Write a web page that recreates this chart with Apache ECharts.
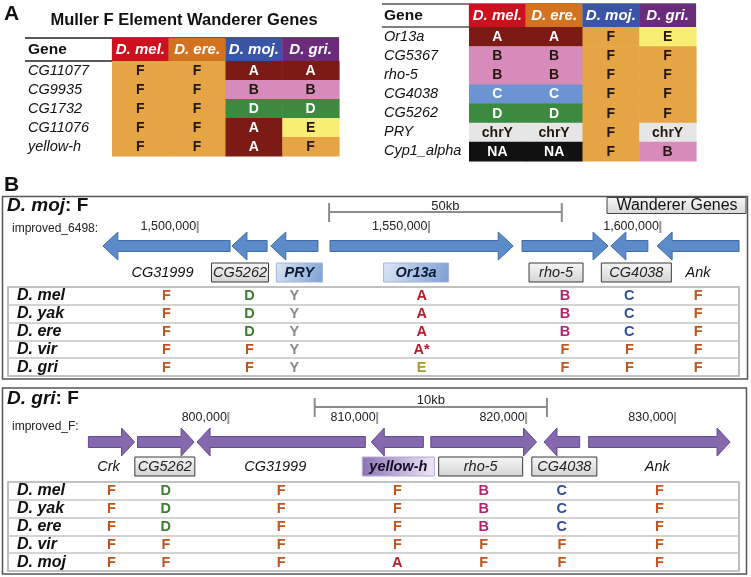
<!DOCTYPE html>
<html><head><meta charset="utf-8">
<script src="https://cdn.jsdelivr.net/npm/echarts@6/dist/echarts.min.js"></script>
<style>html,body{margin:0;padding:0;background:#fff}#c{width:751px;height:577px}</style>
</head><body><div id="c"></div>
<script>
// ---------------- DATA ----------------
// Panel A
const speciesA = ['D. mel.', 'D. ere.', 'D. moj.', 'D. gri.'];
const genesA1 = ['CG11077', 'CG9935', 'CG1732', 'CG11076', 'yellow-h'];
const elementsA1 = [
  ['F', 'F', 'A', 'A'],
  ['F', 'F', 'B', 'B'],
  ['F', 'F', 'D', 'D'],
  ['F', 'F', 'A', 'E'],
  ['F', 'F', 'A', 'F']
];
const genesA2 = ['Or13a', 'CG5367', 'rho-5', 'CG4038', 'CG5262', 'PRY', 'Cyp1_alpha'];
const elementsA2 = [
  ['A', 'A', 'F', 'E'],
  ['B', 'B', 'F', 'F'],
  ['B', 'B', 'F', 'F'],
  ['C', 'C', 'F', 'F'],
  ['D', 'D', 'F', 'F'],
  ['chrY', 'chrY', 'F', 'chrY'],
  ['NA', 'NA', 'F', 'B']
];
// Panel B, D. moj scaffold improved_6498
const mojGenes = ['CG31999', 'CG5262', 'PRY', 'Or13a', 'rho-5', 'CG4038', 'Ank'];
const mojStart = [1479500, 1507400, 1515800, 1528600, 1570100, 1589300, 1599300];
const mojEnd   = [1507000, 1515000, 1526000, 1568200, 1588700, 1597300, 1617000];
const mojStrand = [-1, -1, -1, 1, 1, -1, -1];
const mojKind = ['plain', 'wanderer', 'focal', 'focal', 'wanderer', 'wanderer', 'plain'];
const mojTicks = [1500000, 1550000, 1600000];
const mojScale = [1528400, 1578700];
const mojScaleLabel = '50kb';
const mojSpecies = ['D. mel', 'D. yak', 'D. ere', 'D. vir', 'D. gri'];
const mojTable = [
  ['F', 'D', 'Y', 'A', 'B', 'C', 'F'],
  ['F', 'D', 'Y', 'A', 'B', 'C', 'F'],
  ['F', 'D', 'Y', 'A', 'B', 'C', 'F'],
  ['F', 'F', 'Y', 'A*', 'F', 'F', 'F'],
  ['F', 'F', 'Y', 'E', 'F', 'F', 'F']
];
// Panel B, D. gri scaffold improved_F
const griGenes = ['Crk', 'CG5262', 'CG31999', 'yellow-h', 'rho-5', 'CG4038', 'Ank'];
const griStart = [790600, 793900, 797900, 809600, 813600, 821200, 824200];
const griEnd   = [793700, 797700, 809200, 813100, 820700, 823600, 833700];
const griStrand = [1, 1, -1, -1, 1, -1, 1];
const griKind = ['plain', 'wanderer', 'plain', 'focal', 'wanderer', 'wanderer', 'plain'];
const griTicks = [800000, 810000, 820000, 830000];
const griScale = [805800, 821400];
const griScaleLabel = '10kb';
const griSpecies = ['D. mel', 'D. yak', 'D. ere', 'D. vir', 'D. moj'];
const griTable = [
  ['F', 'D', 'F', 'F', 'B', 'C', 'F'],
  ['F', 'D', 'F', 'F', 'B', 'C', 'F'],
  ['F', 'D', 'F', 'F', 'B', 'C', 'F'],
  ['F', 'F', 'F', 'F', 'F', 'F', 'F'],
  ['F', 'F', 'F', 'A', 'F', 'F', 'F']
];

// ---------------- STYLE / LAYOUT ----------------
const FONT = '"Liberation Sans", Arial, Helvetica, sans-serif';
const headerColors = ['#CD101E', '#D4731F', '#3A55A5', '#6B2B7B'];
const cellColor = {F: '#E6A545', A: '#7C1B15', B: '#D68BBA', C: '#6C94D2', D: '#3B8A40', E: '#F9EE74', chrY: '#E6E6E6', NA: '#111111'};
const cellTextWhite = {A: 1, C: 1, D: 1, NA: 1};
const letterColor = {F: '#C0561E', D: '#3E7D2F', Y: '#8A8A8A', A: '#B51F2E', 'A*': '#B51F2E', B: '#B3236F', C: '#2F4D9B', E: '#A89A2E'};
const mojRange = [1459000, 1617000];
const griRange = [785200, 834300];
// label nudges (px) and box widths (px) for the gene name tags
const mojLabelLayout = {dx: [-4, -9.5, 5, -5.5, -9, 7, 0], w: [0, 57, 46, 65, 54, 70, 0]};
const griLabelLayout = {dx: [-3, -1, -6, 1, -3, 2.5, -2], w: [0, 60, 0, 72, 84, 65, 0]};

function txt(text, x, y, font, fill, align, valign, extra) {
  return {type: 'text', x: x, y: y, style: Object.assign({
    text: text, font: font, fill: fill || '#111',
    align: align || 'left', textAlign: align || 'left',
    verticalAlign: valign || 'middle', textVerticalAlign: valign || 'middle'
  }, extra || {})};
}

function cellRender(table) {
  return function (params, api) {
    const col = api.value(0), row = api.value(1);
    const c = api.coord([col, row]);
    const s = api.size([1, 1]);
    const v = table[row][col];
    return {type: 'group', children: [
      {type: 'rect', shape: {x: c[0] - s[0] / 2, y: c[1] - s[1] / 2, width: s[0] + 0.6, height: s[1] + 0.6},
       style: {fill: cellColor[v]}},
      txt(v, c[0], c[1] + 0.5, 'bold 14px ' + FONT, cellTextWhite[v] ? '#fff' : '#22170c', 'center', 'middle')
    ]};
  };
}
function cellData(table) {
  const d = [];
  table.forEach((r, ri) => r.forEach((v, ci) => d.push([ci, ri])));
  return d;
}

function panelCfg(isMoj) {
  return isMoj ? {
    fill: '#5B8BC8', stroke: '#3F6CA6', hl: 15, sh: 5.5, hh: 14, labelY: 26.5, layout: mojLabelLayout,
    focalBg: new echarts.graphic.LinearGradient(0, 0, 1, 1, [{offset: 0, color: '#dce6f4'}, {offset: 1, color: '#7b9fd3'}]),
    focalBorder: '#9fb6d8', focalText: '#0c1a34',
    tickTop: -25, tickBot: -13, tickText: -19,
    barY: -34, barTickTop: -43, barTickBot: -24, barText: -39.5
  } : {
    fill: '#8568AE', stroke: '#654A8E', hl: 13, sh: 5.5, hh: 14, labelY: 24.5, layout: griLabelLayout,
    focalBg: new echarts.graphic.LinearGradient(0, 0, 1, 0, [{offset: 0, color: '#8c72b6'}, {offset: 1, color: '#efe9f6'}]),
    focalBorder: '#b8a8d0', focalText: '#140c22',
    tickTop: -30, tickBot: -18, tickText: -24,
    barY: -35, barTickTop: -44, barTickBot: -25, barText: -41.5
  };
}

function geneRender(names, strand, kind, cfg) {
  return function (params, api) {
    const i = params.dataIndex;
    const xa = api.coord([api.value(0), 0.5])[0];
    const xb = api.coord([api.value(1), 0.5])[0];
    const cy = params.coordSys.y + params.coordSys.height / 2;
    const hl = cfg.hl, sh = cfg.sh, hh = cfg.hh;
    let pts;
    if (strand[i] > 0) {
      pts = [[xa, cy - sh], [xb - hl, cy - sh], [xb - hl, cy - hh], [xb, cy], [xb - hl, cy + hh], [xb - hl, cy + sh], [xa, cy + sh]];
    } else {
      pts = [[xb, cy - sh], [xa + hl, cy - sh], [xa + hl, cy - hh], [xa, cy], [xa + hl, cy + hh], [xa + hl, cy + sh], [xb, cy + sh]];
    }
    const mx = (xa + xb) / 2 + cfg.layout.dx[i], ly = cy + cfg.labelY, bw = cfg.layout.w[i];
    const children = [{type: 'polygon', shape: {points: pts}, style: {fill: cfg.fill, stroke: cfg.stroke, lineWidth: 1}}];
    const k = kind[i];
    if (k === 'plain') {
      children.push(txt(names[i], mx, ly, 'italic 14.5px ' + FONT, '#111', 'center', 'middle'));
    } else if (k === 'wanderer') {
      children.push({type: 'rect', shape: {x: mx - bw / 2, y: ly - 9.5, width: bw, height: 19},
        style: {fill: new echarts.graphic.LinearGradient(0, 0, 0, 1, [{offset: 0, color: '#f7f7f7'}, {offset: 1, color: '#d4d4d4'}]),
                stroke: '#3a3a3a', lineWidth: 1}});
      children.push(txt(names[i], mx, ly + 0.5, 'italic 14.5px ' + FONT, '#222', 'center', 'middle'));
    } else {
      children.push({type: 'rect', shape: {x: mx - bw / 2, y: ly - 9.5, width: bw, height: 19},
        style: {fill: cfg.focalBg, stroke: cfg.focalBorder, lineWidth: 1}});
      children.push(txt(names[i], mx, ly + 0.5, 'italic bold 14.5px ' + FONT, cfg.focalText, 'center', 'middle'));
    }
    return {type: 'group', children: children};
  };
}

function tickRender(cfg) {
  return function (params, api) {
    const x = api.coord([api.value(0), 0.5])[0];
    const cy = params.coordSys.y + params.coordSys.height / 2;
    const v = api.value(0);
    return {type: 'group', children: [
      {type: 'line', shape: {x1: x, y1: cy + cfg.tickTop, x2: x, y2: cy + cfg.tickBot}, style: {stroke: '#999', lineWidth: 2}},
      txt(v.toLocaleString('en-US'), x - 1.5, cy + cfg.tickText, '12.5px ' + FONT, '#222', 'right', 'middle')
    ]};
  };
}

function scaleRender(cfg, label) {
  return function (params, api) {
    const x1 = api.coord([api.value(0), 0.5])[0];
    const x2 = api.coord([api.value(1), 0.5])[0];
    const cy = params.coordSys.y + params.coordSys.height / 2;
    const st = {stroke: '#8c8c8c', lineWidth: 2};
    return {type: 'group', children: [
      {type: 'line', shape: {x1: x1, y1: cy + cfg.barY, x2: x2, y2: cy + cfg.barY}, style: st},
      {type: 'line', shape: {x1: x1, y1: cy + cfg.barTickTop, x2: x1, y2: cy + cfg.barTickBot}, style: st},
      {type: 'line', shape: {x1: x2, y1: cy + cfg.barTickTop, x2: x2, y2: cy + cfg.barTickBot}, style: st},
      txt(label, (x1 + x2) / 2, cy + cfg.barText, '13px ' + FONT, '#222', 'center', 'middle')
    ]};
  };
}

function letterRender(table, mids) {
  return function (params, api) {
    const g = api.value(0), s = api.value(1);
    const c = api.coord([mids[g], s]);
    const v = table[s][g];
    return txt(v, c[0], c[1] + 0.5, 'bold 14.5px ' + FONT, letterColor[v], 'center', 'middle');
  };
}

const mids = (st, en) => st.map((s, i) => (s + en[i]) / 2);
const mojMid = mids(mojStart, mojEnd);
const griMid = mids(griStart, griEnd);

const chart = echarts.init(document.getElementById('c'), null, {renderer: 'canvas'});

const baseGrid = {containLabel: false, outerBoundsMode: 'none'};
const grids = [
  Object.assign({left: 112, top: 61, width: 227, height: 95}, baseGrid),
  Object.assign({left: 469, top: 27, width: 227, height: 134}, baseGrid),
  Object.assign({left: 8, top: 232, width: 731, height: 28}, baseGrid),
  Object.assign({left: 8, top: 287, width: 731, height: 89, show: true, borderColor: '#a8a8a8', borderWidth: 1.5, backgroundColor: 'transparent'}, baseGrid),
  Object.assign({left: 8, top: 428, width: 731, height: 28}, baseGrid),
  Object.assign({left: 8, top: 482, width: 731, height: 89, show: true, borderColor: '#a8a8a8', borderWidth: 1.5, backgroundColor: 'transparent'}, baseGrid)
];

function headerAxis(gi) {
  const rich = {};
  headerColors.forEach((c, i) => {
    rich['h' + i] = {width: 57, height: 23, lineHeight: 23, align: 'center', verticalAlign: 'middle', backgroundColor: c,
      color: '#fff', fontWeight: 'bold', fontStyle: 'italic', fontSize: 15, fontFamily: FONT};
  });
  return {gridIndex: gi, type: 'category', data: speciesA, position: 'top',
    axisLine: {show: false}, axisTick: {show: false}, splitLine: {show: false},
    axisLabel: {interval: 0, margin: 0, formatter: (v, i) => '{h' + i + '|' + v + '}', rich: rich}};
}
function geneAxis(gi, data, margin) {
  return {gridIndex: gi, type: 'category', data: data, inverse: true,
    axisLine: {show: false}, axisTick: {show: false}, splitLine: {show: false},
    axisLabel: {interval: 0, align: 'left', margin: margin, fontStyle: 'italic', fontSize: 14.5, color: '#111', fontFamily: FONT}};
}
function hiddenX(gi, r) {
  return {gridIndex: gi, type: 'value', min: r[0], max: r[1], show: false};
}
function hiddenY(gi) {
  return {gridIndex: gi, type: 'value', min: 0, max: 1, show: false};
}
function speciesAxis(gi, data) {
  return {gridIndex: gi, type: 'category', data: data, inverse: true,
    axisLine: {show: false}, axisTick: {show: false},
    splitLine: {show: true, interval: 0, lineStyle: {color: '#c4c4c4', width: 1.5}},
    axisLabel: {inside: true, interval: 0, margin: 9, fontWeight: 'bold', fontStyle: 'italic', fontSize: 16, color: '#111', fontFamily: FONT}};
}

const mojCfg = panelCfg(true), griCfg = panelCfg(false);

const option = {
  backgroundColor: '#fff',
  animation: false,
  textStyle: {fontFamily: FONT},
  grid: grids,
  xAxis: [headerAxis(0), headerAxis(1), hiddenX(2, mojRange), hiddenX(3, mojRange), hiddenX(4, griRange), hiddenX(5, griRange)],
  yAxis: [geneAxis(0, genesA1, 84), geneAxis(1, genesA2, 85), hiddenY(2), speciesAxis(3, mojSpecies), hiddenY(4), speciesAxis(5, griSpecies)],
  series: [
    {type: 'custom', xAxisIndex: 0, yAxisIndex: 0, renderItem: cellRender(elementsA1), data: cellData(elementsA1), silent: true},
    {type: 'custom', xAxisIndex: 1, yAxisIndex: 1, renderItem: cellRender(elementsA2), data: cellData(elementsA2), silent: true},
    {type: 'custom', xAxisIndex: 2, yAxisIndex: 2, renderItem: geneRender(mojGenes, mojStrand, mojKind, mojCfg),
      data: mojStart.map((s, i) => [s, mojEnd[i]]), encode: {x: [0, 1]}, clip: false, silent: true},
    {type: 'custom', xAxisIndex: 2, yAxisIndex: 2, renderItem: tickRender(mojCfg), data: mojTicks.map(v => [v]), encode: {x: 0}, clip: false, silent: true},
    {type: 'custom', xAxisIndex: 2, yAxisIndex: 2, renderItem: scaleRender(mojCfg, mojScaleLabel), data: [mojScale], encode: {x: [0, 1]}, clip: false, silent: true},
    {type: 'custom', xAxisIndex: 3, yAxisIndex: 3, renderItem: letterRender(mojTable, mojMid), data: cellData(mojTable), encode: {x: 0, y: 1}, clip: false, silent: true},
    {type: 'custom', xAxisIndex: 4, yAxisIndex: 4, renderItem: geneRender(griGenes, griStrand, griKind, griCfg),
      data: griStart.map((s, i) => [s, griEnd[i]]), encode: {x: [0, 1]}, clip: false, silent: true},
    {type: 'custom', xAxisIndex: 4, yAxisIndex: 4, renderItem: tickRender(griCfg), data: griTicks.map(v => [v]), encode: {x: 0}, clip: false, silent: true},
    {type: 'custom', xAxisIndex: 4, yAxisIndex: 4, renderItem: scaleRender(griCfg, griScaleLabel), data: [griScale], encode: {x: [0, 1]}, clip: false, silent: true},
    {type: 'custom', xAxisIndex: 5, yAxisIndex: 5, renderItem: letterRender(griTable, griMid), data: cellData(griTable), encode: {x: 0, y: 1}, clip: false, silent: true}
  ],
  graphic: {elements: [
    txt('A', 4, 4, 'bold 21px ' + FONT, '#111', 'left', 'top'),
    txt('Muller F Element Wanderer Genes', 184, 20, 'bold 16.5px ' + FONT, '#111', 'center', 'middle'),
    {type: 'line', shape: {x1: 25, y1: 38, x2: 339, y2: 38}, style: {stroke: '#222', lineWidth: 1.5}},
    {type: 'line', shape: {x1: 25, y1: 61, x2: 112, y2: 61}, style: {stroke: '#222', lineWidth: 1.5}},
    txt('Gene', 28, 50, 'bold 15.5px ' + FONT, '#111', 'left', 'middle'),
    {type: 'line', shape: {x1: 382, y1: 4, x2: 696, y2: 4}, style: {stroke: '#555', lineWidth: 1.5}},
    {type: 'line', shape: {x1: 382, y1: 27, x2: 469, y2: 27}, style: {stroke: '#555', lineWidth: 1.5}},
    txt('Gene', 384, 15.5, 'bold 15.5px ' + FONT, '#111', 'left', 'middle'),
    txt('B', 4, 175, 'bold 21px ' + FONT, '#111', 'left', 'top'),
    {type: 'rect', shape: {x: 2.5, y: 196.5, width: 745, height: 182.5}, style: {fill: 'none', stroke: '#555', lineWidth: 1.5}},
    {type: 'rect', shape: {x: 2.5, y: 388, width: 744, height: 186}, style: {fill: 'none', stroke: '#555', lineWidth: 1.5}},
    {type: 'text', x: 7, y: 206, style: {text: '{a|D. moj}{b|: F}', verticalAlign: 'middle', textVerticalAlign: 'middle',
      rich: {a: {fontStyle: 'italic', fontWeight: 'bold', fontSize: 19, fontFamily: FONT, fill: '#111', color: '#111'},
             b: {fontWeight: 'bold', fontSize: 19, fontFamily: FONT, fill: '#111', color: '#111'}}}},
    txt('improved_6498:', 12, 229, '12px ' + FONT, '#222', 'left', 'middle'),
    {type: 'rect', shape: {x: 607, y: 197.5, width: 139, height: 16},
      style: {fill: new echarts.graphic.LinearGradient(0, 0, 0, 1, [{offset: 0, color: '#f7f7f7'}, {offset: 1, color: '#d8d8d8'}]), stroke: '#444', lineWidth: 1}},
    txt('Wanderer Genes', 677, 206, '16px ' + FONT, '#111', 'center', 'middle'),
    {type: 'text', x: 7, y: 399, style: {text: '{a|D. gri}{b|: F}', verticalAlign: 'middle', textVerticalAlign: 'middle',
      rich: {a: {fontStyle: 'italic', fontWeight: 'bold', fontSize: 19, fontFamily: FONT, fill: '#111', color: '#111'},
             b: {fontWeight: 'bold', fontSize: 19, fontFamily: FONT, fill: '#111', color: '#111'}}}},
    txt('improved_F:', 12, 427, '12px ' + FONT, '#222', 'left', 'middle')
  ]}
};
chart.setOption(option);
</script></body></html>
